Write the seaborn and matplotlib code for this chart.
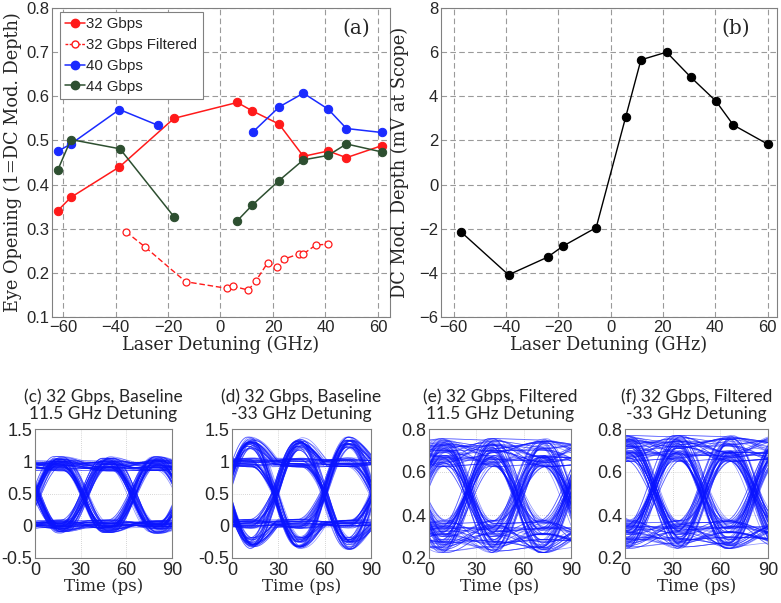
import numpy as np
import pandas as pd
import matplotlib
matplotlib.use("Agg")
import matplotlib.pyplot as plt
from matplotlib.lines import Line2D
import seaborn as sns

# ---------------- Panel (a): eye opening vs detuning ----------------
det_32 = [-62, -57, -38.5, -17.7, 6.4, 12.1, 22.3, 31.6, 41, 48, 61.4]
eye_32 = [0.341, 0.371, 0.44, 0.55, 0.586, 0.567, 0.537, 0.464, 0.476, 0.461, 0.488]

det_32f = [-36, -28.8, -13.3, 2.4, 4.6, 10.6, 13.4, 18, 21.5, 24.2, 29.9, 31.6, 36.3, 41]
eye_32f = [0.293, 0.259, 0.180, 0.165, 0.170, 0.161, 0.181, 0.223, 0.214, 0.231,
           0.243, 0.243, 0.263, 0.265]

det_40 = [-61.8, -57, -38.5, -23.7, 12.5, 22.4, 31.6, 41, 48, 61.4]
eye_40 = [0.476, 0.492, 0.570, 0.534, 0.52, 0.576, 0.607, 0.571, 0.527, 0.518]
seg_40 = [0, 0, 0, 0, 1, 1, 1, 1, 1, 1]

det_44 = [-62, -57, -38.3, -17.7, 6.4, 12.2, 22.3, 31.6, 41, 48, 61.4]
eye_44 = [0.433, 0.502, 0.481, 0.327, 0.318, 0.354, 0.409, 0.456, 0.466, 0.492, 0.474]
seg_44 = [0, 0, 0, 0, 1, 1, 1, 1, 1, 1, 1]

# ---------------- Panel (b): DC modulation depth ----------------
det_b = [-57.1, -39, -24.1, -18.2, -5.5, 5.8, 11.6, 21.4, 30.7, 40.2, 46.9, 60.2]
dc_b = [-2.15, -4.09, -3.29, -2.79, -1.95, 3.07, 5.65, 6.0, 4.86, 3.79, 2.7, 1.82]

# ---------------- Eye diagrams (c)-(f) ----------------
eye_titles = ["(c) 32 Gbps, Baseline\n11.5 GHz Detuning",
              "(d) 32 Gbps, Baseline\n-33 GHz Detuning",
              "(e) 32 Gbps, Filtered\n11.5 GHz Detuning",
              "(f) 32 Gbps, Filtered\n-33 GHz Detuning"]
# first crossing (ps), bit period (ps), transition width (ps)
eye_cross = [1.0, -3.5, 25.0, 18.0]
eye_period = [31.7, 31.7, 31.5, 31.7]
eye_width = [28.0, 31.0, 31.0, 31.0]
# nominal levels and spread of the 0 / 1 rails, overshoot of transitions
eye_low = [0.02, 0.03, 0.30, 0.31]
eye_high = [0.93, 0.98, 0.69, 0.71]
eye_spread_lo = [0.07, 0.07, 0.075, 0.065]
eye_spread_hi = [0.08, 0.07, 0.065, 0.06]
eye_overshoot = [0.06, 0.30, 0.0, 0.0]
eye_tjit = [2.5, 2.0, 2.5, 2.5]
eye_ylim = [(-0.5, 1.5), (-0.5, 1.5), (0.2, 0.8), (0.2, 0.8)]
eye_yticks = [[-0.5, 0, 0.5, 1, 1.5], [-0.5, 0, 0.5, 1, 1.5],
              [0.2, 0.4, 0.6, 0.8], [0.2, 0.4, 0.6, 0.8]]
eye_yticklabels = [["-0.5", "0", "0.5", "1", "1.5"], ["-0.5", "0", "0.5", "1", "1.5"],
                   ["0.2", "0.4", "0.6", "0.8"], ["0.2", "0.4", "0.6", "0.8"]]
# per-bit level / per-transition timing deviations (normalised)
level_jitter = [-0.9, 0.3, -0.4, 0.8, 0.1, -0.6, 0.5, -0.2, 0.9, -0.8, 0.2, 0.6,
                -0.3, 0.0, 0.7, -0.5, 0.4, -0.7, 1.0, -1.0, 0.15, -0.35, 0.55]
time_jitter = [0.4, -0.7, 0.1, 0.9, -0.3, -0.9, 0.6, 0.0, -0.5, 0.8, -0.1, 0.3,
               -0.6, 0.7, -0.2, 1.0, -1.0]


def eye_frame(i):
    t = np.linspace(0, 90, 181)
    T = eye_period[i]
    W = eye_width[i]
    nl = len(level_jitter)
    nt = len(time_jitter)
    frames = []
    n = 0
    for p in range(64):
        bits = [(p >> (5 - j)) & 1 for j in range(6)]
        for v in range(3):
            lev = []
            for j, b in enumerate(bits):
                if b:
                    lev.append(eye_high[i] + eye_spread_hi[i] * level_jitter[(n * 7 + j * 13 + 3) % nl])
                else:
                    lev.append(eye_low[i] + eye_spread_lo[i] * level_jitter[(n * 11 + j * 5 + 8) % nl])
            y = np.full_like(t, lev[0])
            for k in range(5):
                dt = eye_tjit[i] * time_jitter[(n * 5 + k * 11 + v) % nt]
                tk = eye_cross[i] + (k - 1) * T + dt
                u = t - tk
                s = np.clip(u / W, -0.5, 0.5)
                y = y + (lev[k + 1] - lev[k]) * 0.5 * (1 + np.sin(np.pi * s))
                if eye_overshoot[i]:
                    bump = np.where((u > 0) & (u < T), np.sin(np.pi * np.clip(u, 0, T) / T), 0.0)
                    amp = eye_overshoot[i] * (1 + 0.15 * level_jitter[(n * 3 + k * 7) % nl])
                    y = y + amp * (bits[k + 1] - bits[k]) * bump
            frames.append(pd.DataFrame({"t": t, "y": y, "trace": n}))
            n += 1
    return pd.concat(frames, ignore_index=True)


sns.set_theme(style="white")
plt.rcParams["font.family"] = ["Liberation Sans", "DejaVu Sans"]
SERIF = ["DejaVu Serif"]
TITLE = ["Lato", "DejaVu Sans"]
SPINE = "#808080"

W_PX, H_PX = 781, 603
fig = plt.figure(figsize=(W_PX / 100, H_PX / 100), dpi=100)


def px_axes(l, t, r, b):
    return fig.add_axes([l / W_PX, 1 - b / H_PX, (r - l) / W_PX, (b - t) / H_PX])


def style_axes(ax, grid_ls):
    for s in ax.spines.values():
        s.set_color(SPINE)
        s.set_linewidth(0.8)
    ax.tick_params(direction="in", length=3, width=0.6, color="#555555",
                   labelsize=12, pad=2, top=False, right=False)
    ax.set_axisbelow(True)
    if grid_ls == "dash":
        ax.grid(True, color="#9a9a9a", linestyle=(0, (5, 3)), linewidth=0.8)
    else:
        ax.grid(True, color="#c8c8c8", linestyle=(0, (1, 1.5)), linewidth=0.6)


# ---- (a)
axa = px_axes(52, 8, 390, 317)
style_axes(axa, "dash")
RED, BLUE, GREEN = "#ff1a1a", "#1a2bff", "#2d4f30"
df32 = pd.DataFrame({"x": det_32, "y": eye_32})
sns.lineplot(data=df32, x="x", y="y", ax=axa, color=RED, lw=1.1, marker="o",
             markersize=6, markeredgecolor=RED, sort=False, estimator=None)
df32f = pd.DataFrame({"x": det_32f, "y": eye_32f})
sns.lineplot(data=df32f, x="x", y="y", ax=axa, color=RED, lw=1.0, marker="o",
             markersize=5, markerfacecolor="white", markeredgecolor=RED,
             markeredgewidth=0.9, linestyle=(0, (4, 2)), sort=False, estimator=None)
df40 = pd.DataFrame({"x": det_40, "y": eye_40, "seg": seg_40})
sns.lineplot(data=df40, x="x", y="y", units="seg", ax=axa, color=BLUE, lw=1.1,
             marker="o", markersize=6, markeredgecolor=BLUE, sort=False, estimator=None)
df44 = pd.DataFrame({"x": det_44, "y": eye_44, "seg": seg_44})
sns.lineplot(data=df44, x="x", y="y", units="seg", ax=axa, color=GREEN, lw=1.1,
             marker="o", markersize=6, markeredgecolor=GREEN, sort=False, estimator=None)
axa.set_xlim(-64.2, 64.6)
axa.set_ylim(0.1, 0.8)
axa.set_xticks([-60, -40, -20, 0, 20, 40, 60])
axa.set_yticks([0.1, 0.2, 0.3, 0.4, 0.5, 0.6, 0.7, 0.8])
axa.set_yticklabels(["0.1", "0.2", "0.3", "0.4", "0.5", "0.6", "0.7", "0.8"])
axa.set_xlabel("Laser Detuning (GHz)", family=SERIF, fontsize=12.8, labelpad=1)
axa.set_ylabel("Eye Opening (1=DC Mod. Depth)", family=SERIF, fontsize=12.8, labelpad=3)
axa.text(0.94, 0.935, "(a)", transform=axa.transAxes, family=SERIF, fontsize=14.5,
         ha="right", va="center")
handles = [
    Line2D([], [], color=RED, lw=1.1, marker="o", markersize=6),
    Line2D([], [], color=RED, lw=1.0, marker="o", markersize=5, markerfacecolor="white",
           linestyle=(0, (2, 1))),
    Line2D([], [], color=BLUE, lw=1.1, marker="o", markersize=6),
    Line2D([], [], color=GREEN, lw=1.1, marker="o", markersize=6),
]
leg = axa.legend(handles, ["32 Gbps", "32 Gbps Filtered", "40 Gbps", "44 Gbps"],
                 loc="upper left", bbox_to_anchor=(0.024, 0.987), fontsize=10.8,
                 handlelength=1.3, handletextpad=0.1, borderpad=0.35, labelspacing=0.45,
                 fancybox=False, framealpha=1, edgecolor=SPINE, borderaxespad=0)
leg.get_frame().set_linewidth(0.8)

# ---- (b)
axb = px_axes(441, 8, 777, 317)
style_axes(axb, "dash")
dfb = pd.DataFrame({"x": det_b, "y": dc_b})
sns.lineplot(data=dfb, x="x", y="y", ax=axb, color="black", lw=1.0, marker="o",
             markersize=6, markeredgecolor="black", sort=False, estimator=None)
axb.set_xlim(-64.8, 63.6)
axb.set_ylim(-6, 8)
axb.set_xticks([-60, -40, -20, 0, 20, 40, 60])
axb.set_yticks([-6, -4, -2, 0, 2, 4, 6, 8])
axb.set_xlabel("Laser Detuning (GHz)", family=SERIF, fontsize=12.8, labelpad=1)
axb.set_ylabel("DC Mod. Depth (mV at Scope)", family=SERIF, fontsize=12.8, labelpad=7)
axb.text(0.92, 0.935, "(b)", transform=axb.transAxes, family=SERIF, fontsize=14.5,
         ha="right", va="center")

# ---- (c)-(f)
eye_boxes = [(35, 429, 172, 558), (232, 429, 371, 558), (429, 429, 571, 558), (625, 429, 768, 558)]
for i, box in enumerate(eye_boxes):
    ax = px_axes(*box)
    style_axes(ax, "dot")
    d = eye_frame(i)
    sns.lineplot(data=d, x="t", y="y", units="trace", estimator=None, ax=ax,
                 color="#0a14ff", lw=0.55, alpha=0.45, sort=False)
    ax.set_xlim(0, 90)
    ax.set_ylim(*eye_ylim[i])
    ax.set_xticks([0, 30, 60, 90])
    ax.set_xticklabels(["0", "30", "60", "90"])
    ax.set_yticks(eye_yticks[i])
    ax.set_yticklabels(eye_yticklabels[i])
    ax.tick_params(labelsize=13)
    ax.tick_params(axis="x", pad=3)
    ax.set_xlabel("Time (ps)", family=SERIF, fontsize=12, labelpad=-1)
    ax.set_ylabel("")
    ax.set_title(eye_titles[i], family=TITLE, fontsize=12.5, pad=7, linespacing=1.1)

fig.savefig("out.png", dpi=100)
